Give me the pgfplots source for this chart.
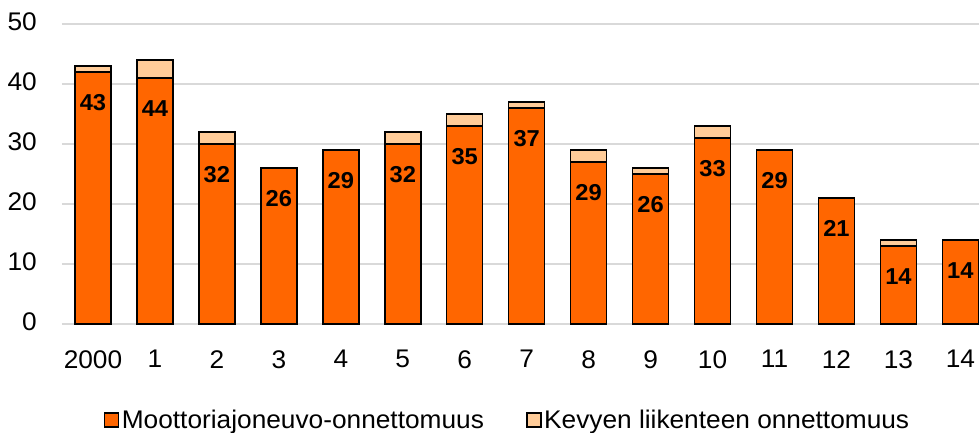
\documentclass[border=0pt]{standalone}
\usepackage{fontspec}
\setmainfont{Liberation Sans}[FakeStretch=1.03]
\usepackage{pgfplots}
\usepackage{pgfplotstable}
\pgfplotsset{compat=1.18}
\pgfplotsset{/pgf/number format/assume math mode=true}
\definecolor{motor}{HTML}{FF6600}
\definecolor{lightc}{HTML}{FFCC99}
\definecolor{gridc}{HTML}{D9D9D9}
\pgfplotstableread{
x motor light total
0 42 1 43
1 41 3 44
2 30 2 32
3 26 0 26
4 29 0 29
5 30 2 32
6 33 2 35
7 36 1 37
8 27 2 29
9 25 1 26
10 31 2 33
11 29 0 29
12 21 0 21
13 13 1 14
14 14 0 14
}\datatable
\begin{document}
\begin{tikzpicture}[font=\fontsize{25.5bp}{30bp}\selectfont]
\begin{axis}[
  scale only axis, width=917bp, height=300bp,
  ybar, bar width=36bp, bar shift=0pt,
  xmin=-0.5, xmax=14.3, ymin=0, ymax=50,
  axis line style={draw=none},
  tick style={draw=none},
  ymajorgrids, grid style={gridc, line width=1.2bp},
  xtick={0,...,14},
  xticklabels={2000,1,2,3,4,5,6,7,8,9,10,11,12,13,14},
  ytick={0,10,...,50},
  xticklabel style={inner sep=0pt, anchor=north, yshift=-22bp, font=\fontsize{25.5bp}{30bp}\selectfont},
  yticklabel style={inner sep=0pt, anchor=east, xshift=-25bp, yshift=2bp, font=\fontsize{25.5bp}{30bp}\selectfont},
  legend style={at={(0.0425,-0.32)}, anchor=west, draw=none, fill=none,
    legend columns=2, font=\fontsize{25.5bp}{30bp}\selectfont,
    /tikz/every even column/.append style={column sep=40bp},
    nodes={inner sep=2.5bp}},
  legend cell align=left,
]
\addlegendimage{legend image code/.code={\draw[fill=motor, draw=black, line width=1.2bp] (0bp,-7bp) rectangle (14bp,7bp);}}
\addlegendentry{Moottoriajoneuvo-onnettomuus}
\addlegendimage{legend image code/.code={\draw[fill=lightc, draw=black, line width=1.2bp] (0bp,-7bp) rectangle (14bp,7bp);}}
\addlegendentry{Kevyen liikenteen onnettomuus}
% light segment: drawn as full total bar behind the motor bar
\addplot[fill=lightc, draw=black, line width=1.5bp, forget plot]
  table[x=x, y=total] {\datatable};
\addplot[fill=motor, draw=black, line width=1.5bp, forget plot,
  nodes near coords={\pgfmathprintnumber{\pgfplotspointmeta}},
  point meta=explicit,
  every node near coord/.style={anchor=north, yshift=-22bp, inner sep=0pt, black,
    font=\fontsize{23bp}{27bp}\selectfont\bfseries}]
  table[x=x, y=motor, meta=total] {\datatable};
\end{axis}
\pgfresetboundingbox
\useasboundingbox (-62bp,-109bp) rectangle (917bp,324bp);
\end{tikzpicture}
\end{document}
